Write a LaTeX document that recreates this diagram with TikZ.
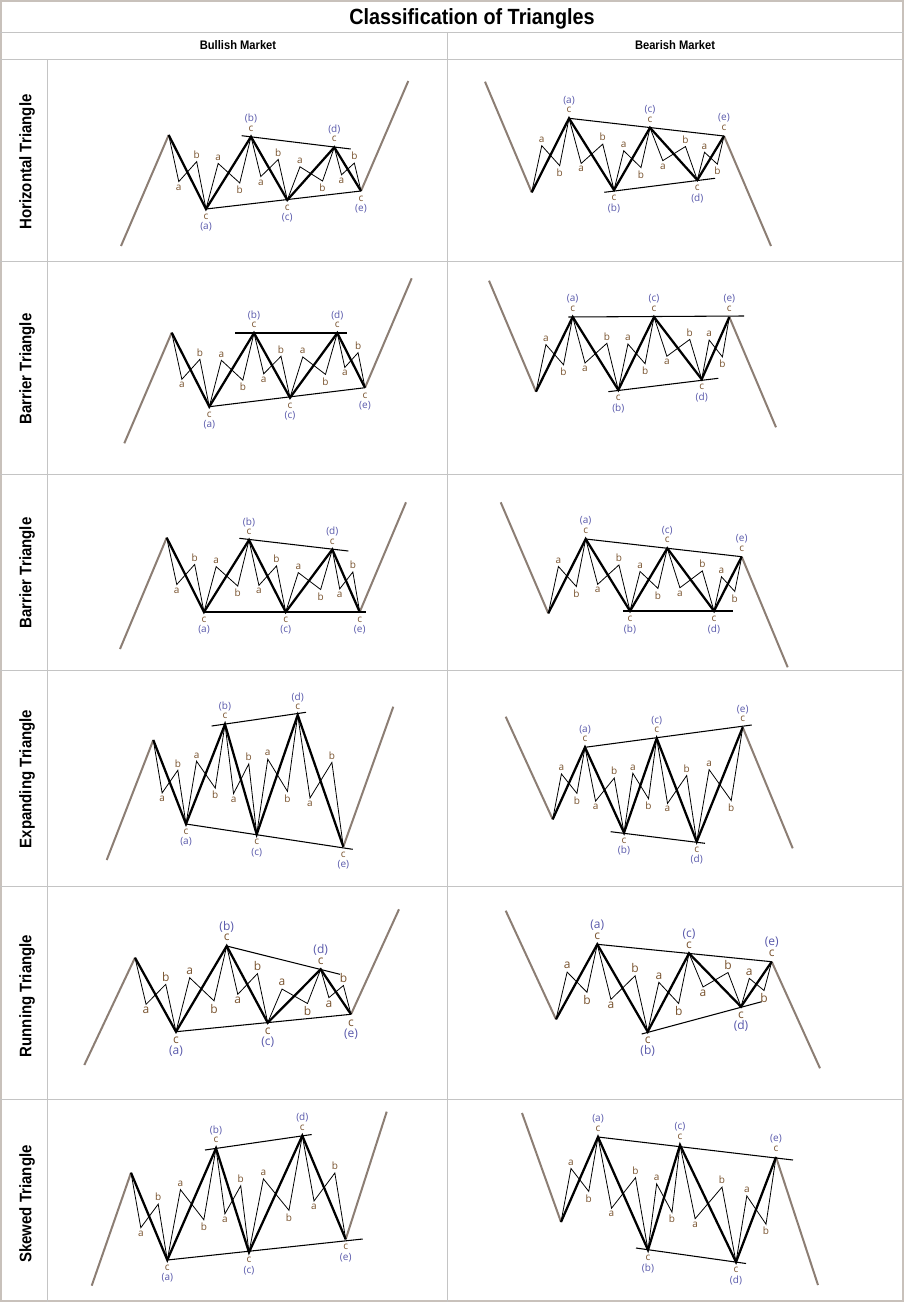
\documentclass[tikz,border=0pt]{standalone}
\usepackage{fontspec}
\setmainfont{Liberation Sans}
\newfontfamily\headfont[FakeStretch=0.9]{Liberation Sans}
\newfontfamily\wavefont{Open Sans}
\usetikzlibrary{calc,positioning}

\definecolor{wavebrown}{RGB}{120,82,45}
\definecolor{waveblue}{RGB}{88,88,170}
\definecolor{trendgray}{RGB}{140,126,116}
\definecolor{gridgray}{RGB}{196,196,196}
\definecolor{framegray}{RGB}{200,193,187}

\tikzset{
  grid line/.style={draw=gridgray, line width=0.75pt},
  trend/.style={draw=trendgray, line width=1.5pt},
  mainwave/.style={draw=black, line width=1.7pt, line join=miter},
  subwave/.style={draw=black, line width=0.6pt},
  bound/.style={draw=black, line width=0.8pt},
  wavelab/.style={font=\wavefont\fontsize{7.5}{8}\selectfont, inner sep=0.5pt},
  clab/.style={wavelab, text=wavebrown},
  plab/.style={wavelab, text=waveblue},
  sublab/.style={wavelab, text=wavebrown},
  headlabel/.style={font=\headfont\bfseries\fontsize{9.3}{10}\selectfont},
  rowlabel/.style={font=\headfont\bfseries\fontsize{12.5}{13}\selectfont, rotate=90},
}

% gaps of the pivot labels
\newcommand{\cgap}{8}
\newcommand{\pgap}{18}

% trend in, the five pivots, trend out
\newcommand{\wavepts}[8]{%
  \coordinate (s) at (#1);
  \coordinate (p0) at (#2);
  \coordinate (pa) at (#3);
  \coordinate (pb) at (#4);
  \coordinate (pc) at (#5);
  \coordinate (pd) at (#6);
  \coordinate (pe) at (#7);
  \coordinate (f) at (#8);
}
% upper and lower boundary lines
\newcommand{\bandlines}[4]{%
  \coordinate (u1) at (#1); \coordinate (u2) at (#2);
  \coordinate (l1) at (#3); \coordinate (l2) at (#4);
}
% thin a-b-c inside one leg
\newcommand{\subleg}[4]{%
  \coordinate (t1) at ($(#1)!0.27!(#2)$);
  \coordinate (t2) at ($(#1)!0.63!(#2)$);
  \coordinate (t3) at ($(#1)!0.75!(#2)$);
  \coordinate (t4) at ($(#1)!0.36!(#2)$);
  \draw[subwave] (#1) -- (t1 |- t2) node[sublab, #3=1.5pt] (#1sa) {a}
    -- (t3 |- t4) node[sublab, #4=1.5pt] (#1sb) {b} -- (#2);
}
% "c" and "(x)" at a pivot, #2 = 1 below, -1 above
\newcommand{\pivotmark}[3]{%
  \node[clab] (#1c) at ($(#1)+(0,#2*\cgap)$) {c};
  \node[plab] (#1l) at ($(#1)+(0,#2*\pgap)$) {(#3)};
}
\newcommand{\wavechart}[4]{%
  \draw[trend] (s) -- (p0);
  \draw[trend] (pe) -- (f);
  \draw[bound] (u1) -- (u2);
  \draw[bound] (l1) -- (l2);
  \subleg{p0}{pa}{#1}{#2}
  \subleg{pa}{pb}{#2}{#1}
  \subleg{pb}{pc}{#1}{#2}
  \subleg{pc}{pd}{#2}{#1}
  \subleg{pd}{pe}{#1}{#2}
  \draw[mainwave] (p0) -- (pa) -- (pb) -- (pc) -- (pd) -- (pe);
  \pivotmark{pa}{#3}{a}
  \pivotmark{pb}{#4}{b}
  \pivotmark{pc}{#3}{c}
  \pivotmark{pd}{#4}{d}
  \pivotmark{pe}{#3}{e}
}

\begin{document}
\begin{tikzpicture}[x=0.75pt, y=-0.75pt]
  \useasboundingbox (0,0) rectangle (904,1302);

  % Table
  \draw[framegray, line width=1.5pt] (0.75,0.75) rectangle (903.25,1301.25);
  \draw[grid line] (0,33) -- (904,33);
  \draw[grid line] (0,60) -- (904,60);
  \foreach \yy in {261,474,670,886,1099}
    \draw[grid line] (0,\yy) -- (904,\yy);
  \draw[grid line] (447,33) -- (447,1302);
  \draw[grid line] (47,60) -- (47,1302);

  % Headings
  \node[font=\headfont\bfseries\fontsize{16.5}{18}\selectfont] (title) at (472,19) {Classification of Triangles};
  \node[headlabel] (bull) at (238,45) {Bullish Market};
  \node[headlabel] (bear) at (675,45) {Bearish Market};

  \node[rowlabel] (row1) at (27,162) {Horizontal Triangle};
  \node[rowlabel] (row2) at (27,369) {Barrier Triangle};
  \node[rowlabel] (row3) at (27,573) {Barrier Triangle};
  \node[rowlabel] (row4) at (27,779) {Expanding Triangle};
  \node[rowlabel] (row5) at (27,996) {Running Triangle};
  \node[rowlabel] (row6) at (27,1204) {Skewed Triangle};

  % Horizontal
  \wavepts{121,246}{168.7,135}{206,209}{251,136.7}{287.3,200}{334.3,147.3}{361,191}{408.3,81}
  \bandlines{241.7,135.7}{350.7,149}{206,209}{361,191}
  \wavechart{below}{above}{1}{-1}
  \wavepts{485,81.7}{531.7,192.3}{569,118.3}{614,190}{650,127.7}{697.3,180}{724,136}{771,246}
  \bandlines{569,118.3}{724,136}{604.3,192.3}{715,178.3}
  \wavechart{above}{below}{-1}{1}

  % Barrier, flat top / flat bottom
  \wavepts{124.3,443.3}{171.7,332.7}{209.3,406.7}{254,333}{290,397.7}{337.3,333}{365,387.7}{411.7,278.3}
  \bandlines{235,333}{346.7,333}{209.3,406.7}{365,387.7}
  \wavechart{below}{above}{1}{-1}
  \wavepts{489,280.7}{536,391.7}{572.7,317}{618.3,390}{654,317}{701.7,379.3}{729.3,317}{776,427.3}
  \bandlines{568.3,317}{744,316}{608.3,391.7}{718.3,378.3}
  \wavechart{above}{below}{-1}{1}

  % Barrier, other side flat
  \wavepts{120,649}{166.7,537.7}{204,612}{249,540}{285.7,612}{332.3,549.5}{359.7,612}{406,502.3}
  \bandlines{239.3,538.3}{348.3,551}{204,612}{365.7,612}
  \wavechart{below}{above}{1}{-1}
  \wavepts{500.7,502.3}{548.3,613.3}{585.7,539}{630,611}{667.3,548.3}{714,611}{741.7,556.7}{787.7,667.3}
  \bandlines{585.7,539}{741.7,556.7}{623.3,611}{733.3,611}
  \wavechart{above}{below}{-1}{1}

  % Expanding
  \wavepts{106.7,860}{153.3,740}{186,824}{225,724.3}{256.7,834.3}{297.7,715}{343.3,846.7}{393.3,706.7}
  \bandlines{211.7,726}{306,712.3}{186,824}{352.7,849.3}
  \wavechart{below}{above}{1}{-1}
  \wavepts{505.7,716.7}{552.7,819.3}{585,747.3}{624,832.7}{656.7,738.3}{696.7,841.7}{742.7,727.3}{792.7,848.3}
  \bandlines{585,747.3}{751.7,725}{610.7,831.7}{705,843.3}
  \wavechart{above}{below}{-1}{1}

  % Running (larger labels)
  \begin{scope}[wavelab/.style={font=\wavefont\fontsize{9}{10}\selectfont, inner sep=0.5pt}]
    \renewcommand{\cgap}{8.5}
    \renewcommand{\pgap}{19.5}
    \wavepts{84.3,1065}{135,957.7}{176,1031.7}{226.7,946}{267.7,1022.7}{320.7,969.3}{351,1014.3}{399,909.3}
    \bandlines{226.7,946}{340,974.3}{176,1031.7}{351,1014.3}
    \wavechart{below}{above}{1}{-1}
    \wavepts{505.7,910.7}{556,1019.3}{597.3,944.3}{647.7,1031.7}{689,953.3}{741,1006.7}{771.7,961.7}{820,1068.3}
    \bandlines{597.3,944.3}{771.7,961.7}{641.7,1034}{761.7,1001.7}
    \wavechart{above}{below}{-1}{1}
  \end{scope}

  % Skewed
  \wavepts{91.7,1285.7}{131,1172.7}{167.3,1260}{216,1148.3}{249,1252.3}{302.3,1135.7}{345.7,1239.3}{386.7,1111.7}
  \bandlines{205,1150}{311.7,1134.5}{167.3,1260}{362.7,1239}
  \wavechart{below}{above}{1}{-1}
  \wavepts{522,1113}{561,1222}{598,1137}{648,1250}{680,1145}{736,1262}{776,1157}{818,1285}
  \bandlines{598,1137}{793,1160}{636,1248}{746,1263.5}
  \wavechart{above}{below}{-1}{1}
\end{tikzpicture}
\end{document}
